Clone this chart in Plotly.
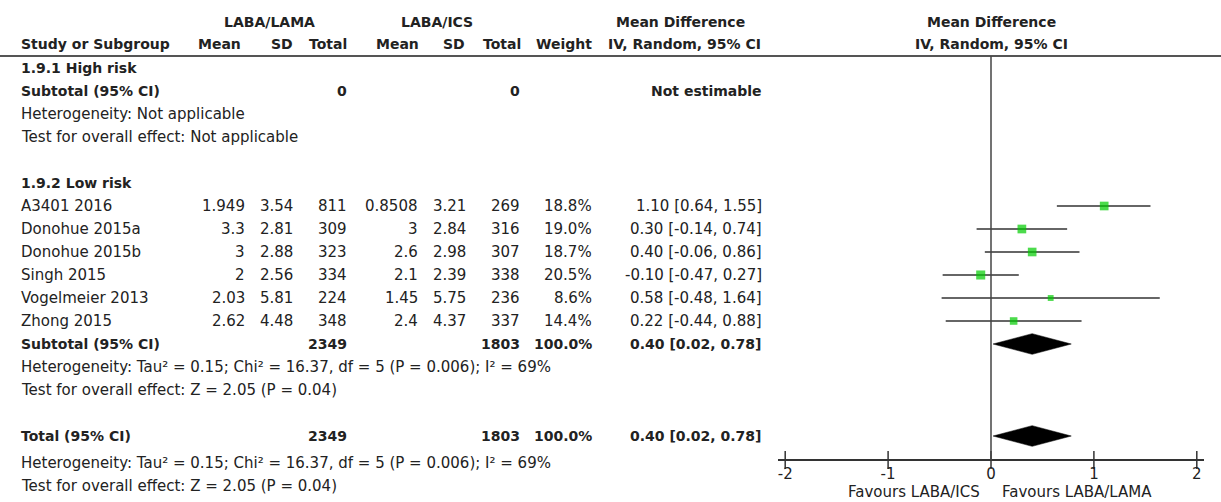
import plotly.graph_objects as go
import math

# ---------------- data ----------------
studies = ["A3401 2016", "Donohue 2015a", "Donohue 2015b", "Singh 2015", "Vogelmeier 2013", "Zhong 2015"]
lama_mean = [1.949, 3.3, 3, 2, 2.03, 2.62]
lama_sd = [3.54, 2.81, 2.88, 2.56, 5.81, 4.48]
lama_n = [811, 309, 323, 334, 224, 348]
ics_mean = [0.8508, 3, 2.6, 2.1, 1.45, 2.4]
ics_sd = [3.21, 2.84, 2.98, 2.39, 5.75, 4.37]
ics_n = [269, 316, 307, 338, 236, 337]
weight = [18.8, 19.0, 18.7, 20.5, 8.6, 14.4]
md = [1.10, 0.30, 0.40, -0.10, 0.58, 0.22]
ci_lo = [0.64, -0.14, -0.06, -0.47, -0.48, -0.44]
ci_hi = [1.55, 0.74, 0.86, 0.27, 1.64, 0.88]

pooled_md, pooled_lo, pooled_hi = 0.40, 0.02, 0.78
pooled_lama_n, pooled_ics_n = 2349, 1803
het_text = "Heterogeneity: Tau² = 0.15; Chi² = 16.37, df = 5 (P = 0.006); I² = 69%"
test_text = "Test for overall effect: Z = 2.05 (P = 0.04)"
tick_vals = [-2, -1, 0, 1, 2]
tick_text = ["-2", "-1", "0", "1", "2"]
left_label = "Favours LABA/ICS"
right_label = "Favours LABA/LAMA"

# ---------------- layout helpers ----------------
W, H = 1221, 502
ROW0, ROWH = 22.0, 23.0          # pixel centre of row 0 and row height
FONT = "DejaVu Sans"
TXT = "#222222"


def px_x(p):
    return p / W


def pix_to_row(p):
    return (p - ROW0) / ROWH


annotations = []


def txt(s, xpix, row, anchor="left", bold=False, size=None):
    if size is None:
        size = 14 if bold else 15
    annotations.append(dict(
        text=("<b>%s</b>" % s) if bold else s,
        x=px_x(xpix), xref="paper", xanchor=anchor,
        y=row, yref="y", yanchor="middle",
        showarrow=False, font=dict(family=FONT, size=size, color=TXT)))


def fmt(v):
    return "{:g}".format(v)


def ci_str(m, l, h):
    return "%.2f [%.2f, %.2f]" % (m, l, h)


# column right edges (pixels)
X_NAME = 19
X_M1, X_SD1, X_N1 = 247, 295, 349
X_M2, X_SD2, X_N2 = 420, 468, 522
X_W, X_CI = 594, 764

# header rows
txt("LABA/LAMA", 269, 0, "center", True)
txt("LABA/ICS", 437, 0, "center", True)
txt("Mean Difference", 680, 0, "center", True)
txt("Mean Difference", 991, 0, "center", True)
r_h2 = 0.96
txt("Study or Subgroup", X_NAME, r_h2, "left", True)
txt("Mean", 243, r_h2, "right", True)
txt("SD", X_SD1, r_h2, "right", True)
txt("Total", X_N1, r_h2, "right", True)
txt("Mean", 421, r_h2, "right", True)
txt("SD", 467, r_h2, "right", True)
txt("Total", 523, r_h2, "right", True)
txt("Weight", X_W, r_h2, "right", True)
txt("IV, Random, 95% CI", 763, r_h2, "right", True)
txt("IV, Random, 95% CI", 991, r_h2, "center", True)

# subgroup 1.9.1
txt("1.9.1 High risk", X_NAME, 2, "left", True)
txt("Subtotal (95% CI)", X_NAME, 3, "left", True)
txt("0", X_N1, 3, "right", True)
txt("0", X_N2, 3, "right", True)
txt("Not estimable", X_CI, 3, "right", True)
txt("Heterogeneity: Not applicable", X_NAME, 4)
txt("Test for overall effect: Not applicable", X_NAME, 5)

# subgroup 1.9.2
txt("1.9.2 Low risk", X_NAME, 7, "left", True)
study_rows = [8 + i for i in range(len(studies))]
for i, r in enumerate(study_rows):
    txt(studies[i], X_NAME, r)
    txt(fmt(lama_mean[i]), X_M1, r, "right")
    txt(fmt(lama_sd[i]), X_SD1, r, "right")
    txt(str(lama_n[i]), X_N1, r, "right")
    txt(fmt(ics_mean[i]), X_M2, r, "right")
    txt(fmt(ics_sd[i]), X_SD2, r, "right")
    txt(str(ics_n[i]), X_N2, r, "right")
    txt("%.1f%%" % weight[i], X_W, r, "right")
    txt(ci_str(md[i], ci_lo[i], ci_hi[i]), X_CI, r, "right")

sub_row = 14
total_row = 18
for r, label in [(sub_row, "Subtotal (95% CI)"), (total_row, "Total (95% CI)")]:
    txt(label, X_NAME, r, "left", True)
    txt(str(pooled_lama_n), X_N1, r, "right", True)
    txt(str(pooled_ics_n), X_N2, r, "right", True)
    txt("%.1f%%" % sum(weight), X_W, r, "right", True)
    txt(ci_str(pooled_md, pooled_lo, pooled_hi), X_CI, r, "right", True)

txt(het_text, X_NAME, 15)
txt(test_text, X_NAME, 16)
txt(het_text, X_NAME, pix_to_row(463))
txt(test_text, X_NAME, pix_to_row(486))

axis_row = pix_to_row(460)
txt(left_label, 982, pix_to_row(492), "right")
txt(right_label, 1000, pix_to_row(492), "left")

# ---------------- traces ----------------
fig = go.Figure()

# confidence-interval whiskers
cx, cy = [], []
for i, r in enumerate(study_rows):
    cx += [ci_lo[i], ci_hi[i], None]
    cy += [r, r, None]
fig.add_trace(go.Scatter(x=cx, y=cy, mode="lines",
                         line=dict(color="#333333", width=1.5),
                         hoverinfo="skip", showlegend=False))

# weighted squares
fig.add_trace(go.Scatter(x=md, y=study_rows, mode="markers",
                         marker=dict(symbol="square", color="#00CC00",
                                     size=[2.0 * math.sqrt(w) for w in weight],
                                     line=dict(width=0)),
                         showlegend=False))

# pooled diamonds
dh = 0.45
for r in (sub_row, total_row):
    fig.add_trace(go.Scatter(
        x=[pooled_lo, pooled_md, pooled_hi, pooled_md, pooled_lo],
        y=[r, r - dh, r, r + dh, r],
        mode="lines", fill="toself", fillcolor="black",
        line=dict(color="black", width=0.5), showlegend=False))

# crossing tick marks on the axis
fig.add_trace(go.Scatter(x=tick_vals, y=[axis_row] * len(tick_vals), mode="markers",
                         marker=dict(symbol="line-ns-open", size=13, color="#333333",
                                     line=dict(color="#333333", width=1.5)),
                         hoverinfo="skip", showlegend=False, cliponaxis=False))

# ---------------- layout ----------------
x_range = [-2.07, 2.07]
x_dom = [778 / W, 1204 / W]

shapes = [
    # header rule
    dict(type="line", xref="paper", yref="y", x0=0, x1=1,
         y0=pix_to_row(56), y1=pix_to_row(56), line=dict(color="#555555", width=2)),
    # line of no effect
    dict(type="line", xref="x", yref="y", x0=0, x1=0,
         y0=pix_to_row(56), y1=axis_row, line=dict(color="#444444", width=1.5)),
]

fig.update_layout(
    width=W, height=H,
    margin=dict(l=0, r=0, t=0, b=0),
    paper_bgcolor="white", plot_bgcolor="rgba(0,0,0,0)",
    annotations=annotations, shapes=shapes,
    xaxis=dict(domain=x_dom, range=x_range, anchor="free",
               position=1 - 460 / H, showgrid=False, zeroline=False,
               showline=True, linecolor="#333333", linewidth=2,
               tickmode="array", tickvals=tick_vals, ticktext=tick_text,
               ticks="", ticklabelstandoff=0,
               tickfont=dict(family=FONT, size=15, color=TXT), fixedrange=True),
    yaxis=dict(domain=[0, 1], range=[pix_to_row(H), pix_to_row(0)],
               visible=False, fixedrange=True),
)

fig.write_html("out.html", config={"displayModeBar": False},
               post_script="document.body.style.margin='0';document.body.style.overflow='hidden';")
